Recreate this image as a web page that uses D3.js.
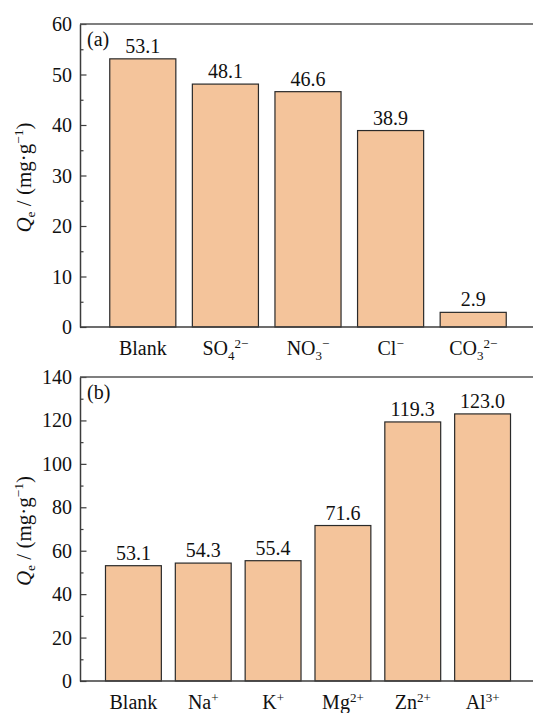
<!DOCTYPE html>
<html>
<head>
<meta charset="utf-8">
<script src="https://cdn.jsdelivr.net/npm/d3@7"></script>
<style>
  html, body { margin: 0; padding: 0; background: #fff; }
  svg { display: block; font-family: "Liberation Serif", "Times New Roman", serif; }
</style>
</head>
<body>
<div id="chart"></div>
<script>
// panel (a): anions
const anionNames = ['Blank', 'SO', 'NO', 'Cl', 'CO'];
const anionSubs = ['', '4', '3', '', '3'];
const anionSups = ['', '2\u2212', '\u2212', '\u2212', '2\u2212'];
const anionValues = [53.1, 48.1, 46.6, 38.9, 2.9];
const anionTicks = [0, 10, 20, 30, 40, 50, 60];

// panel (b): cations
const cationNames = ['Blank', 'Na', 'K', 'Mg', 'Zn', 'Al'];
const cationSubs = ['', '', '', '', '', ''];
const cationSups = ['', '+', '+', '2+', '2+', '3+'];
const cationValues = [53.1, 54.3, 55.4, 71.6, 119.3, 123.0];
const cationTicks = [0, 20, 40, 60, 80, 100, 120, 140];

const W = 533, H = 713;
const FS = 20;
const fill = '#F4C49B', edge = '#2a2a2a', axisColor = '#3c3c3c';

const svg = d3.select('#chart').append('svg').attr('width', W).attr('height', H);

// text with optional subscript / superscript tspans
function richText(g, x, y, base, sub, sup, anchor, size) {
  const t = g.append('text')
    .attr('x', x)
    .attr('y', y)
    .attr('text-anchor', anchor)
    .attr('font-size', size)
    .attr('fill', '#111');
  t.append('tspan').text(base);
  let dy = 0;
  if (sub) {
    t.append('tspan').attr('font-size', size * 0.65).attr('dy', 5).text(sub);
    dy = 5;
  }
  if (sup) {
    t.append('tspan').attr('font-size', size * 0.65).attr('dy', -dy - 7).text(sup);
  }
  return t;
}

function panel(cfg) {
  const { names, subs, sups, values, ticks, top, bottom, bandRange, letter } = cfg;
  const left = 80;
  const g = svg.append('g');
  const ymax = ticks[ticks.length - 1];
  const step = ticks[1] - ticks[0];

  const x = d3.scaleBand().domain(names.map((n, i) => i)).range(bandRange)
    .paddingInner(0.2).paddingOuter(0.1);
  const y = d3.scaleLinear().domain([0, ymax]).range([bottom, top]);

  // bars
  g.selectAll('rect.bar').data(values).join('rect')
    .attr('class', 'bar')
    .attr('x', (d, i) => x(i))
    .attr('y', (d) => y(d))
    .attr('width', x.bandwidth())
    .attr('height', (d) => y(0) - y(d))
    .attr('fill', fill)
    .attr('stroke', edge)
    .attr('stroke-width', 1.2);

  // value labels
  values.forEach((d, i) => {
    richText(g, x(i) + x.bandwidth() / 2, y(d) - 6, d.toFixed(1), '', '', 'middle', FS);
  });

  // minor ticks
  const minor = d3.range(step / 2, ymax, step);
  g.append('g').attr('transform', `translate(${left},0)`)
    .call(d3.axisLeft(y).tickValues(minor).tickSizeInner(-3.5).tickSizeOuter(0).tickFormat(''))
    .call((a) => a.select('.domain').remove())
    .selectAll('line').attr('stroke', axisColor).attr('stroke-width', 1.2);

  // major ticks + left axis
  const ax = g.append('g').attr('transform', `translate(${left},0)`)
    .call(d3.axisLeft(y).tickValues(ticks).tickSizeInner(-6.5).tickSizeOuter(0).tickFormat(''));
  ax.select('.domain').attr('stroke', axisColor).attr('stroke-width', 1.5);
  ax.selectAll('line').attr('stroke', axisColor).attr('stroke-width', 1.2);
  ticks.forEach((t) => {
    richText(g, left - 8, y(t) + 7, String(t), '', '', 'end', FS);
  });

  // top and bottom frame lines
  g.append('line').attr('x1', left).attr('x2', W).attr('y1', y(ymax)).attr('y2', y(ymax))
    .attr('stroke', '#555').attr('stroke-width', 1.3);
  g.append('line').attr('x1', left).attr('x2', W).attr('y1', y(0)).attr('y2', y(0))
    .attr('stroke', axisColor).attr('stroke-width', 1.5);

  // category labels
  names.forEach((n, i) => {
    richText(g, x(i) + x.bandwidth() / 2, y(0) + 28, n, subs[i], sups[i], 'middle', FS);
  });

  // panel letter
  richText(g, left + 7, top + 22, `(${letter})`, '', '', 'start', FS);

  // y title
  const cy = (top + bottom) / 2 + 2;
  const tt = g.append('text')
    .attr('transform', `translate(31,${cy}) rotate(-90)`)
    .attr('text-anchor', 'middle')
    .attr('font-size', 21)
    .attr('fill', '#111');
  tt.append('tspan').attr('font-style', 'italic').text('Q');
  tt.append('tspan').attr('font-size', 13.5).attr('dy', 4).text('e');
  tt.append('tspan').attr('dy', -4).text(' / (mg\u00b7g');
  tt.append('tspan').attr('font-size', 13.5).attr('dy', -8).text('\u22121');
  tt.append('tspan').attr('dy', 8).text(')');
}

panel({
  names: anionNames, subs: anionSubs, sups: anionSups, values: anionValues, ticks: anionTicks,
  top: 24, bottom: 327, bandRange: [101.5, 514.5], letter: 'a'
});

panel({
  names: cationNames, subs: cationSubs, sups: cationSups, values: cationValues, ticks: cationTicks,
  top: 377, bottom: 681, bandRange: [98.5, 517.5], letter: 'b'
});
</script>
</body>
</html>
